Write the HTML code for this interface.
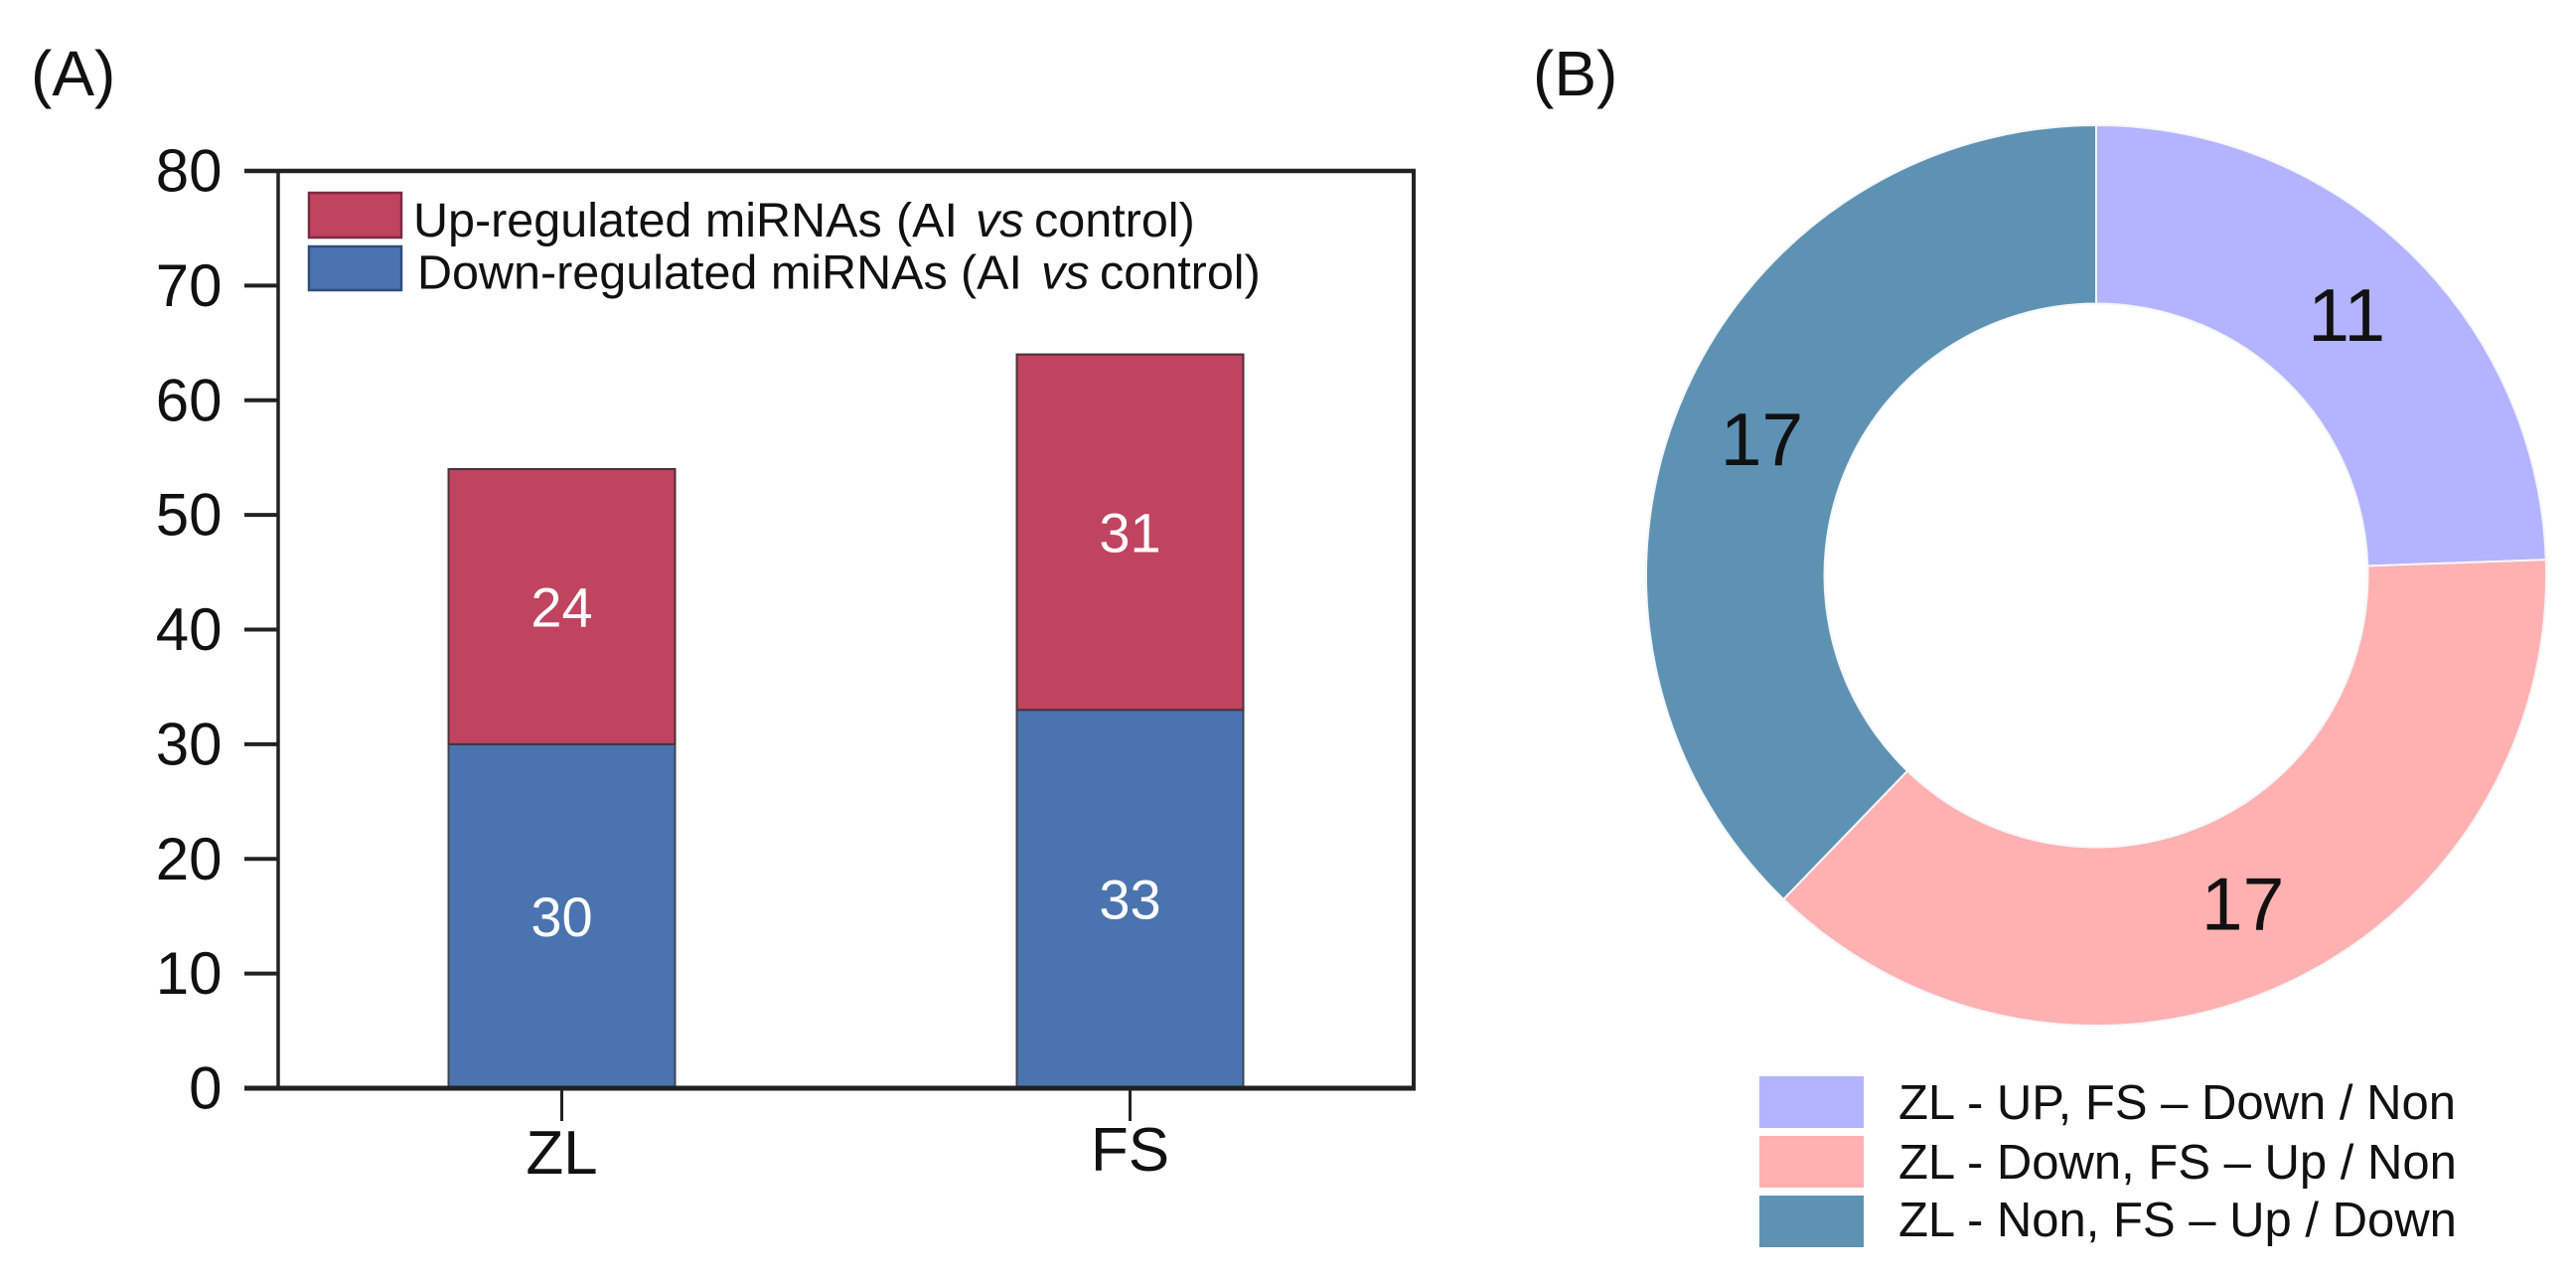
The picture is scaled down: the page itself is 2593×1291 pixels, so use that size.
<!DOCTYPE html>
<html lang="en">
<head>
<meta charset="utf-8">
<title>miRNA counts and overlap</title>
<style>
html,body{margin:0;padding:0;background:#fff;}
body{width:2593px;height:1291px;overflow:hidden;}
svg{display:block;font-family:"Liberation Sans",Arial,sans-serif;}
</style>
</head>
<body>
<svg id="fig" width="2593" height="1291" viewBox="0 0 2593 1291" xmlns="http://www.w3.org/2000/svg">
  <rect x="0" y="0" width="2593" height="1291" fill="#ffffff"/>
  <text x="31" y="96" font-size="64" fill="#111">(A)</text>
  <text x="1543" y="96" font-size="64" fill="#111">(B)</text>
  <g id="barChart"></g>
  <g id="barLegend">
    <rect x="311" y="194" width="93" height="45" fill="#C0435F" stroke="#7d2a42" stroke-width="2.5"/>
    <text y="238" font-size="48.5" fill="#111"><tspan x="416">Up-regulated miRNAs</tspan><tspan x="902">(AI</tspan><tspan x="982" font-style="italic">vs</tspan><tspan x="1041">control)</tspan></text>
    <rect x="311" y="248" width="93" height="44" fill="#4A74B0" stroke="#2f4d7d" stroke-width="2.5"/>
    <text y="290.5" font-size="48.5" fill="#111"><tspan x="420">Down-regulated miRNAs</tspan><tspan x="967">(AI</tspan><tspan x="1048" font-style="italic">vs</tspan><tspan x="1107">control)</tspan></text>
  </g>
  <g id="donutChart"></g>
  <g id="donutLegend">
    <rect x="1771" y="1083" width="105" height="52" fill="#B3B3FF"/>
    <text x="1911" y="1126" font-size="49" fill="#111">ZL - UP, FS – Down / Non</text>
    <rect x="1771" y="1143" width="105" height="52" fill="#FFB0B0"/>
    <text x="1911" y="1186" font-size="49" fill="#111">ZL - Down, FS – Up / Non</text>
    <rect x="1771" y="1203" width="105" height="52" fill="#5E92B3"/>
    <text x="1911" y="1244" font-size="49" fill="#111">ZL - Non, FS – Up / Down</text>
  </g>
</svg>
<script>
const categories = ['ZL', 'FS'];
const downValues = [30, 33];
const upValues = [24, 31];
const yTicks = [0, 10, 20, 30, 40, 50, 60, 70, 80];
const sliceValues = [11, 17, 17];
const sliceNames = ['zl-up', 'zl-down', 'zl-non'];
const sliceColors = ['#B3B3FF', '#FFB0B0', '#5E92B3'];

const NS = 'http://www.w3.org/2000/svg';
const plot = {left: 280, right: 1423, top: 172, bottom: 1095};
const barWidth = 228;
const firstCenter = 565.5;
const centerGap = 572;
const yMax = 80;
const donut = {cx: 2110, cy: 579, outer: 453, inner: 273.5, labelR: 363};

function yScale(v) { return plot.bottom - (v / yMax) * (plot.bottom - plot.top); }
function xScale(i) { return firstCenter + i * centerGap; }
function make(tag, parent, props) {
  const el = document.createElementNS(NS, tag);
  for (const k in props) el.setAttribute(k, props[k]);
  parent.appendChild(el);
  return el;
}

const barG = document.getElementById('barChart');

categories.forEach(function (cat, i) {
  const x = xScale(i) - barWidth / 2;
  const y0 = yScale(0);
  const y1 = yScale(downValues[i]);
  const y2 = yScale(downValues[i] + upValues[i]);

  const down = make('rect', barG, {x: x, y: y1, width: barWidth, height: y0 - y1, fill: '#4A74B0', stroke: '#3c4450', 'stroke-width': 2});
  
  

  const up = make('rect', barG, {x: x, y: y2, width: barWidth, height: y1 - y2, fill: '#C0435F', stroke: '#4a3238', 'stroke-width': 2});
  
  

  const downLabel = make('text', barG, {x: xScale(i), y: yScale(downValues[i] / 2) + 20, 'font-size': 56, fill: '#fff', 'text-anchor': 'middle'});
  downLabel.textContent = downValues[i];
  
  

  const upLabel = make('text', barG, {x: xScale(i), y: yScale(downValues[i] + upValues[i] / 2) + 20, 'font-size': 56, fill: '#fff', 'text-anchor': 'middle'});
  upLabel.textContent = upValues[i];
  
  

  const tick = make('line', barG, {x1: xScale(i), x2: xScale(i), y1: plot.bottom, y2: plot.bottom + 33, stroke: '#222', 'stroke-width': 3});
  
  

  const catLabel = make('text', barG, {x: xScale(i), y: plot.bottom + 86 - 3 * i, 'font-size': 62, fill: '#111', 'text-anchor': 'middle'});
  catLabel.textContent = cat;
  
  
});

yTicks.forEach(function (t) {
  const tick = make('line', barG, {x1: 246, x2: plot.left, y1: yScale(t), y2: yScale(t), stroke: '#222', 'stroke-width': 4});
  
  

  const lab = make('text', barG, {x: 223.5, y: yScale(t) + 20.5, 'font-size': 60, fill: '#111', 'text-anchor': 'end'});
  lab.textContent = t;
  
  
});

const frameSides = [
  ['axis-left', plot.left, plot.top, plot.left, plot.bottom, 3.5],
  ['axis-right', plot.right, plot.top, plot.right, plot.bottom, 4],
  ['axis-top', 246, plot.top, plot.right + 2, plot.top, 4.5],
  ['axis-bottom', 246, plot.bottom, plot.right + 2, plot.bottom, 5]
];
frameSides.forEach(function (s) {
  const l = make('line', barG, {x1: s[1], y1: s[2], x2: s[3], y2: s[4], stroke: '#222', 'stroke-width': s[5]});
  
  
});

const donutG = document.getElementById('donutChart');
const sliceTotal = sliceValues.reduce(function (a, b) { return a + b; }, 0);
function polar(r, frac) {
  const a = frac * 2 * Math.PI;
  return [donut.cx + r * Math.sin(a), donut.cy - r * Math.cos(a)];
}
let running = 0;
sliceValues.forEach(function (v, i) {
  const f0 = running / sliceTotal;
  running += v;
  const f1 = running / sliceTotal;
  const large = (f1 - f0) > 0.5 ? 1 : 0;
  const a = polar(donut.outer, f0), b = polar(donut.outer, f1), c = polar(donut.inner, f1), d = polar(donut.inner, f0);
  const path = 'M' + a[0] + ' ' + a[1] +
    'A' + donut.outer + ' ' + donut.outer + ' 0 ' + large + ' 1 ' + b[0] + ' ' + b[1] +
    'L' + c[0] + ' ' + c[1] +
    'A' + donut.inner + ' ' + donut.inner + ' 0 ' + large + ' 0 ' + d[0] + ' ' + d[1] + 'Z';
  const slice = make('path', donutG, {d: path, fill: sliceColors[i], stroke: '#f4f6fa', 'stroke-width': 2});
  
  
});
running = 0;
sliceValues.forEach(function (v, i) {
  const mid = (running + v / 2) / sliceTotal;
  running += v;
  const p = polar(donut.labelR, mid);
  const lab = make('text', donutG, {x: p[0], y: p[1] + 25, 'font-size': 75, fill: '#111', 'text-anchor': 'middle'});
  lab.textContent = v;
  
  
});
</script>
</body>
</html>
